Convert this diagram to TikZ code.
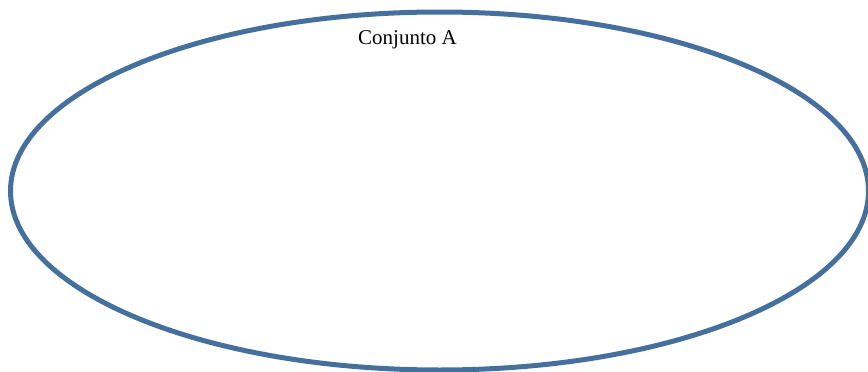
\documentclass[tikz,border=0pt]{standalone}
\usepackage{fontspec}
\setmainfont{Liberation Serif}
\usepackage{xcolor}
\usepackage{tikz}
\usetikzlibrary{shapes.geometric}
\definecolor{azulConjunto}{RGB}{69,112,158}
\tikzset{
    conjunto/.style={
        ellipse,
        draw=azulConjunto,
        line width=5pt,
        inner sep=0pt,
        minimum width=858pt,
        minimum height=358pt
    },
    rotulo/.style={
        anchor=base,
        inner sep=0pt,
        font=\fontsize{21}{25}\selectfont
    }
}

\begin{document}
\begin{tikzpicture}[x=1pt, y=-1pt]
        \useasboundingbox (0,0) rectangle (868,372);
        \node[conjunto] (conjA) at (439.5,191) {};
        \node[rotulo] (nomeA) at (407.5,44) {Conjunto A};
    \end{tikzpicture}
\end{document}
